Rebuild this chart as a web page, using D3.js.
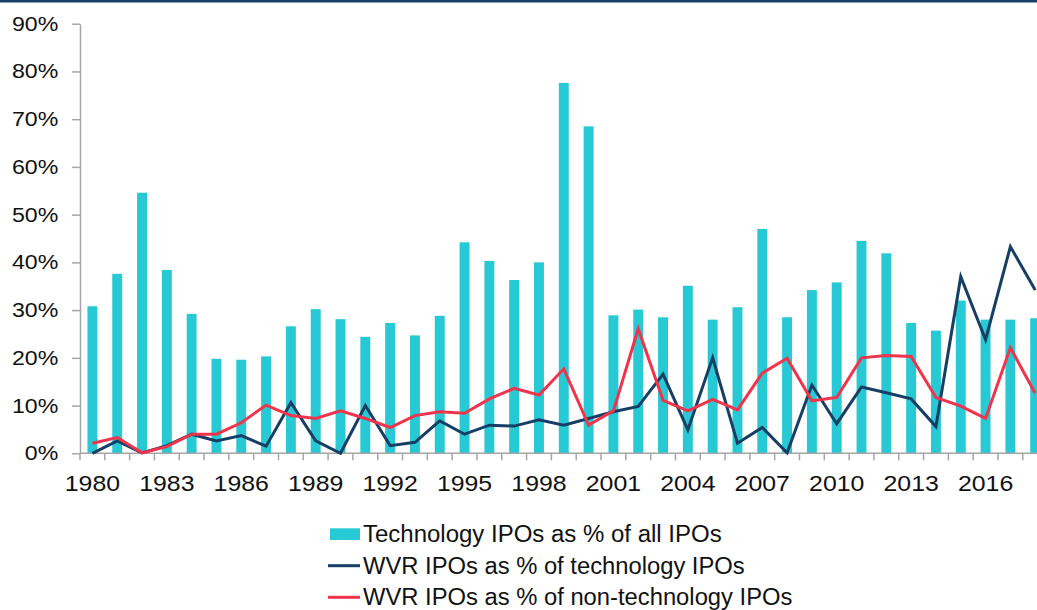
<!DOCTYPE html>
<html>
<head>
<meta charset="utf-8">
<script src="https://cdn.jsdelivr.net/npm/d3@7"></script>
<style>
  html, body { margin: 0; padding: 0; background: #fff; overflow: hidden; }
  svg { display: block; font-family: "Liberation Sans", Arial, sans-serif; }
</style>
</head>
<body>
<svg id="chart" width="1037" height="610"></svg>
<script>
const years = d3.range(1980, 2019);
const techShare = [30.8, 37.6, 54.6, 38.4, 29.2, 19.8, 19.6, 20.3, 26.6, 30.2,
  28.1, 24.4, 27.3, 24.7, 28.8, 44.2, 40.3, 36.3, 40.0, 77.6,
  68.5, 28.9, 30.1, 28.5, 35.1, 28.0, 30.6, 47.0, 28.5, 34.2,
  35.8, 44.5, 41.9, 27.3, 25.7, 32.0, 28.0, 28.0, 28.3];
const wvrTech = [0.0, 2.6, 0.1, 1.6, 4.0, 2.6, 3.7, 1.5, 10.6, 2.6,
  0.0, 10.0, 1.6, 2.3, 6.8, 4.0, 5.9, 5.7, 7.0, 5.9,
  7.3, 8.7, 9.8, 16.6, 4.9, 20.0, 2.1, 5.4, 0.1, 14.3,
  6.2, 13.9, 12.7, 11.4, 5.6, 37.0, 23.8, 43.3, 34.2];
const wvrNonTech = [2.1, 3.3, 0.1, 1.4, 4.0, 4.0, 6.4, 10.1, 7.9, 7.3,
  8.9, 7.3, 5.4, 7.9, 8.7, 8.4, 11.4, 13.6, 12.2, 17.7,
  5.9, 8.9, 26.1, 11.1, 8.9, 11.3, 9.1, 16.8, 19.9, 11.0,
  11.7, 20.0, 20.5, 20.3, 11.7, 9.9, 7.3, 22.1, 12.6];
const yTicks = [0, 10, 20, 30, 40, 50, 60, 70, 80, 90];
const xLabelYears = d3.range(1980, 2019, 3);
const legendLabels = ["Technology IPOs as % of all IPOs",
  "WVR IPOs as % of technology IPOs",
  "WVR IPOs as % of non-technology IPOs"];

const colors = { bar: "#26c9d4", navy: "#173f65", red: "#f0344c", axis: "#a6a6a6" };

const svg = d3.select("#chart");

// top border
svg.append("rect").attr("x", 0).attr("y", 0).attr("width", 1037).attr("height", 2.5).attr("fill", "#17406b");

const left = 80, step = 24.81, y0 = 453.3, yTop = 23.7;
const x = d3.scaleBand().domain(years).range([left, left + years.length * step])
  .paddingInner(0.6).paddingOuter(0.3);
const y = d3.scaleLinear().domain([0, 90]).range([y0, yTop]);
const cx = d => x(d) + x.bandwidth() / 2;

// bars
svg.append("g").selectAll("rect").data(years).join("rect")
  .attr("x", d => x(d))
  .attr("width", x.bandwidth())
  .attr("y", (d, i) => y(techShare[i]))
  .attr("height", (d, i) => y(0) - y(techShare[i]))
  .attr("fill", colors.bar);

// y axis
const yAxis = svg.append("g").attr("transform", `translate(${left},0)`)
  .call(d3.axisLeft(y).tickValues(yTicks).tickFormat(d => d + "%").tickSize(8).tickSizeOuter(0));
yAxis.select(".domain").attr("stroke", colors.axis).attr("stroke-width", 1.5);
yAxis.selectAll(".tick line").attr("stroke", colors.axis).attr("stroke-width", 1.5);
const ySx = 1.13;
yAxis.selectAll(".tick text").attr("font-size", 20.5).attr("fill", "#111")
  .attr("font-family", "Liberation Sans, Arial, sans-serif")
  .attr("x", -21.7 / ySx)
  .attr("transform", `scale(${ySx},1)`);

// x axis line and ticks at band boundaries
const gx = svg.append("g");
const xEnd = left + years.length * step;
gx.append("line").attr("x1", left).attr("x2", xEnd).attr("y1", y0).attr("y2", y0)
  .attr("stroke", colors.axis).attr("stroke-width", 1.5);
gx.selectAll("line.t").data(years).join("line").attr("class", "t")
  .attr("x1", d => cx(d) - x.step() / 2).attr("x2", d => cx(d) - x.step() / 2)
  .attr("y1", y0).attr("y2", y0 + 7)
  .attr("stroke", colors.axis).attr("stroke-width", 1.5);
gx.selectAll("text").data(xLabelYears).join("text")
  .attr("transform", d => `translate(${cx(d)},491) scale(1.13,1)`)
  .attr("text-anchor", "middle").attr("font-size", 22).attr("fill", "#111")
  .text(d => d);

// lines
const line = arr => d3.line().x((d, i) => cx(years[i])).y(d => y(d))(arr);
svg.append("path").attr("d", line(wvrTech)).attr("fill", "none")
  .attr("stroke", colors.navy).attr("stroke-width", 3).attr("stroke-linejoin", "miter");
svg.append("path").attr("d", line(wvrNonTech)).attr("fill", "none")
  .attr("stroke", colors.red).attr("stroke-width", 3).attr("stroke-linejoin", "miter");

// legend
const lg = svg.append("g");
const rows = [542, 573.5, 605];
const legendWidths = [358.7, 381.7, 429.4];
lg.append("rect").attr("x", 330).attr("y", 528.3).attr("width", 30).attr("height", 11.7).attr("fill", colors.bar);
lg.append("line").attr("x1", 328).attr("x2", 360).attr("y1", 565.7).attr("y2", 565.7)
  .attr("stroke", colors.navy).attr("stroke-width", 3);
lg.append("line").attr("x1", 328).attr("x2", 360).attr("y1", 597.3).attr("y2", 597.3)
  .attr("stroke", colors.red).attr("stroke-width", 3);
lg.selectAll("text").data(legendLabels).join("text")
  .attr("x", 363).attr("y", (d, i) => rows[i])
  .attr("font-size", 23).attr("fill", "#111")
  .attr("textLength", (d, i) => legendWidths[i])
  .attr("lengthAdjust", "spacingAndGlyphs")
  .text(d => d);
</script>
</body>
</html>
